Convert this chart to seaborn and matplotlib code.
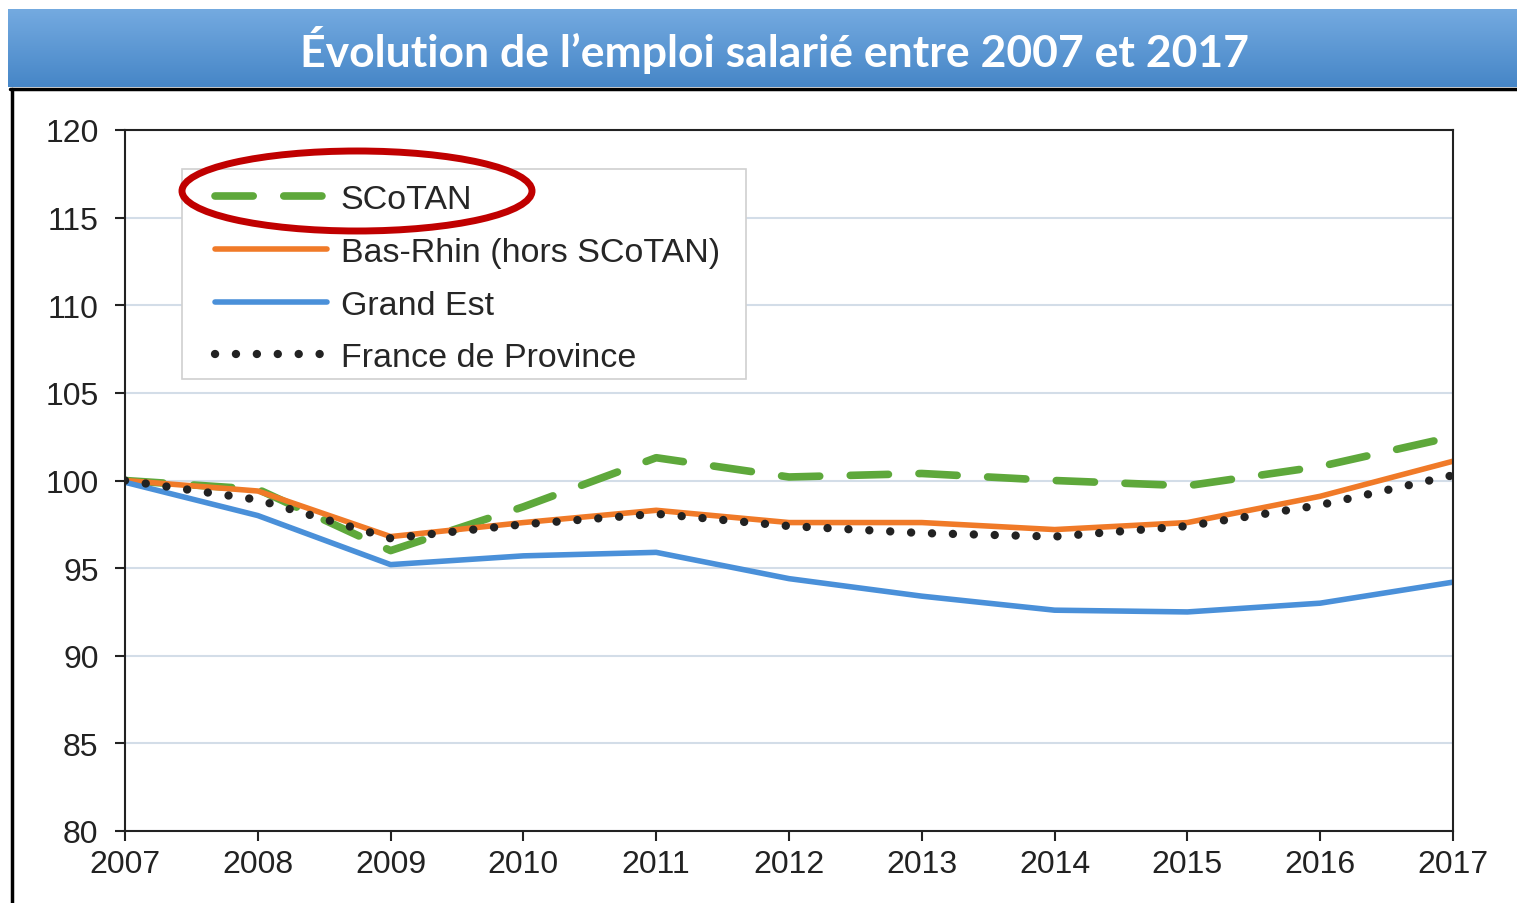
import matplotlib
matplotlib.use("Agg")
import matplotlib.pyplot as plt
from matplotlib.patches import Ellipse, Rectangle
from matplotlib.lines import Line2D
import seaborn as sns
import numpy as np

# ------------------------------------------------------------
# data (indice base 100 en 2007)
# ------------------------------------------------------------
years = [2007, 2008, 2009, 2010, 2011, 2012, 2013, 2014, 2015, 2016, 2017]
scotan = [100.0, 99.5, 96.0, 98.5, 101.3, 100.2, 100.4, 100.0, 99.7, 100.8, 102.5]
bas_rhin = [100.0, 99.4, 96.8, 97.6, 98.3, 97.6, 97.6, 97.2, 97.6, 99.1, 101.1]
grand_est = [99.9, 98.0, 95.2, 95.7, 95.9, 94.4, 93.4, 92.6, 92.5, 93.0, 94.2]
france_prov = [100.0, 98.9, 96.7, 97.5, 98.1, 97.4, 97.0, 96.8, 97.4, 98.6, 100.3]

labels = ["SCoTAN", "Bas-Rhin (hors SCoTAN)", "Grand Est", "France de Province"]
y_ticks = [80, 85, 90, 95, 100, 105, 110, 115, 120]
title = "Évolution de l’emploi salarié entre 2007 et 2017"

W, H = 1517, 904

sns.set_theme(style="white")
plt.rcParams["font.family"] = ["Liberation Sans", "DejaVu Sans"]

fig = plt.figure(figsize=(W / 100, H / 100), dpi=100)
fig.patch.set_facecolor("white")

# ------------------------------------------------------------
# title banner
# ------------------------------------------------------------
bax = fig.add_axes([8 / W, 1 - 88 / H, (W - 8) / W, 78 / H])
grad = np.linspace(0, 1, 100).reshape(-1, 1)
top_c = np.array([0x74, 0xaa, 0xe0]) / 255
bot_c = np.array([0x46, 0x86, 0xc7]) / 255
img = top_c[None, None, :] * (1 - grad[:, :, None]) + bot_c[None, None, :] * grad[:, :, None]
bax.imshow(img, aspect="auto", extent=[0, 1, 0, 1])
bax.set_axis_off()
fig.text(774 / W, 1 - 50 / H, title, ha="center", va="center", color="white",
         fontsize=32, fontweight="bold", family=["Lato", "DejaVu Sans"])

# frame lines under the banner
fig.add_artist(Line2D([10 / W, 1], [1 - 89.5 / H] * 2, color="black", lw=2.5))
fig.add_artist(Line2D([12 / W] * 2, [1 - 89.5 / H, 0], color="black", lw=2.5))

# ------------------------------------------------------------
# chart
# ------------------------------------------------------------
ax = fig.add_axes([125 / W, 1 - 832 / H, (1453 - 125) / W, (832 - 131) / H])

series = [scotan, bas_rhin, grand_est, france_prov]
colors = ["#5ea83b", "#f07a28", "#4a90d9", "#222222"]
styles = [(0, (5, 4)), "-", "-", (0, (0.01, 2.5))]
widths = [5.5, 4, 4, 6]

for vals, lab, c, ls, lw in zip(series, labels, colors, styles, widths):
    sns.lineplot(x=years, y=vals, ax=ax, color=c, linestyle=ls, linewidth=lw,
                 label=lab, solid_capstyle="round", dash_capstyle="round")

ax.set_xlim(2007, 2017)
ax.set_ylim(80, 120)
ax.set_xticks(years)
ax.set_yticks(y_ticks)
ax.set_xticklabels([str(y) for y in years])
ax.grid(axis="y", color="#d3dde8", lw=1.5)
ax.set_axisbelow(True)
for sp in ax.spines.values():
    sp.set_color("#222222")
    sp.set_linewidth(1.5)
ax.tick_params(axis="both", which="both", direction="out", length=7, width=1.5,
               colors="#222222", labelsize=23, labelcolor="#222222")
ax.tick_params(axis="y", pad=12, left=True)
ax.tick_params(axis="x", pad=6, bottom=True)
ax.set_xlabel("")
ax.set_ylabel("")

# legend box drawn separately so the inner padding matches
ax.add_patch(Rectangle((182 / W, 1 - 380 / H), (746 - 182) / W, (380 - 170) / H,
                       transform=fig.transFigure, facecolor="white",
                       edgecolor="#d0d0d0", lw=1.2, zorder=4, clip_on=False))
leg = ax.legend(loc="upper left", bbox_to_anchor=(215 / W, 1 - 185 / H),
                bbox_transform=fig.transFigure, fontsize=24.5, frameon=False,
                handlelength=3.3, handletextpad=0.4, labelspacing=0.64,
                borderpad=0, borderaxespad=0)
leg.set_zorder(6)

# red ellipse highlighting SCoTAN
fig.add_artist(Ellipse((357 / W, 1 - 192 / H), 350 / W, 80 / H, fill=False,
                       edgecolor="#c00000", lw=5, transform=fig.transFigure, zorder=5))

fig.savefig("out.png", dpi=100)
